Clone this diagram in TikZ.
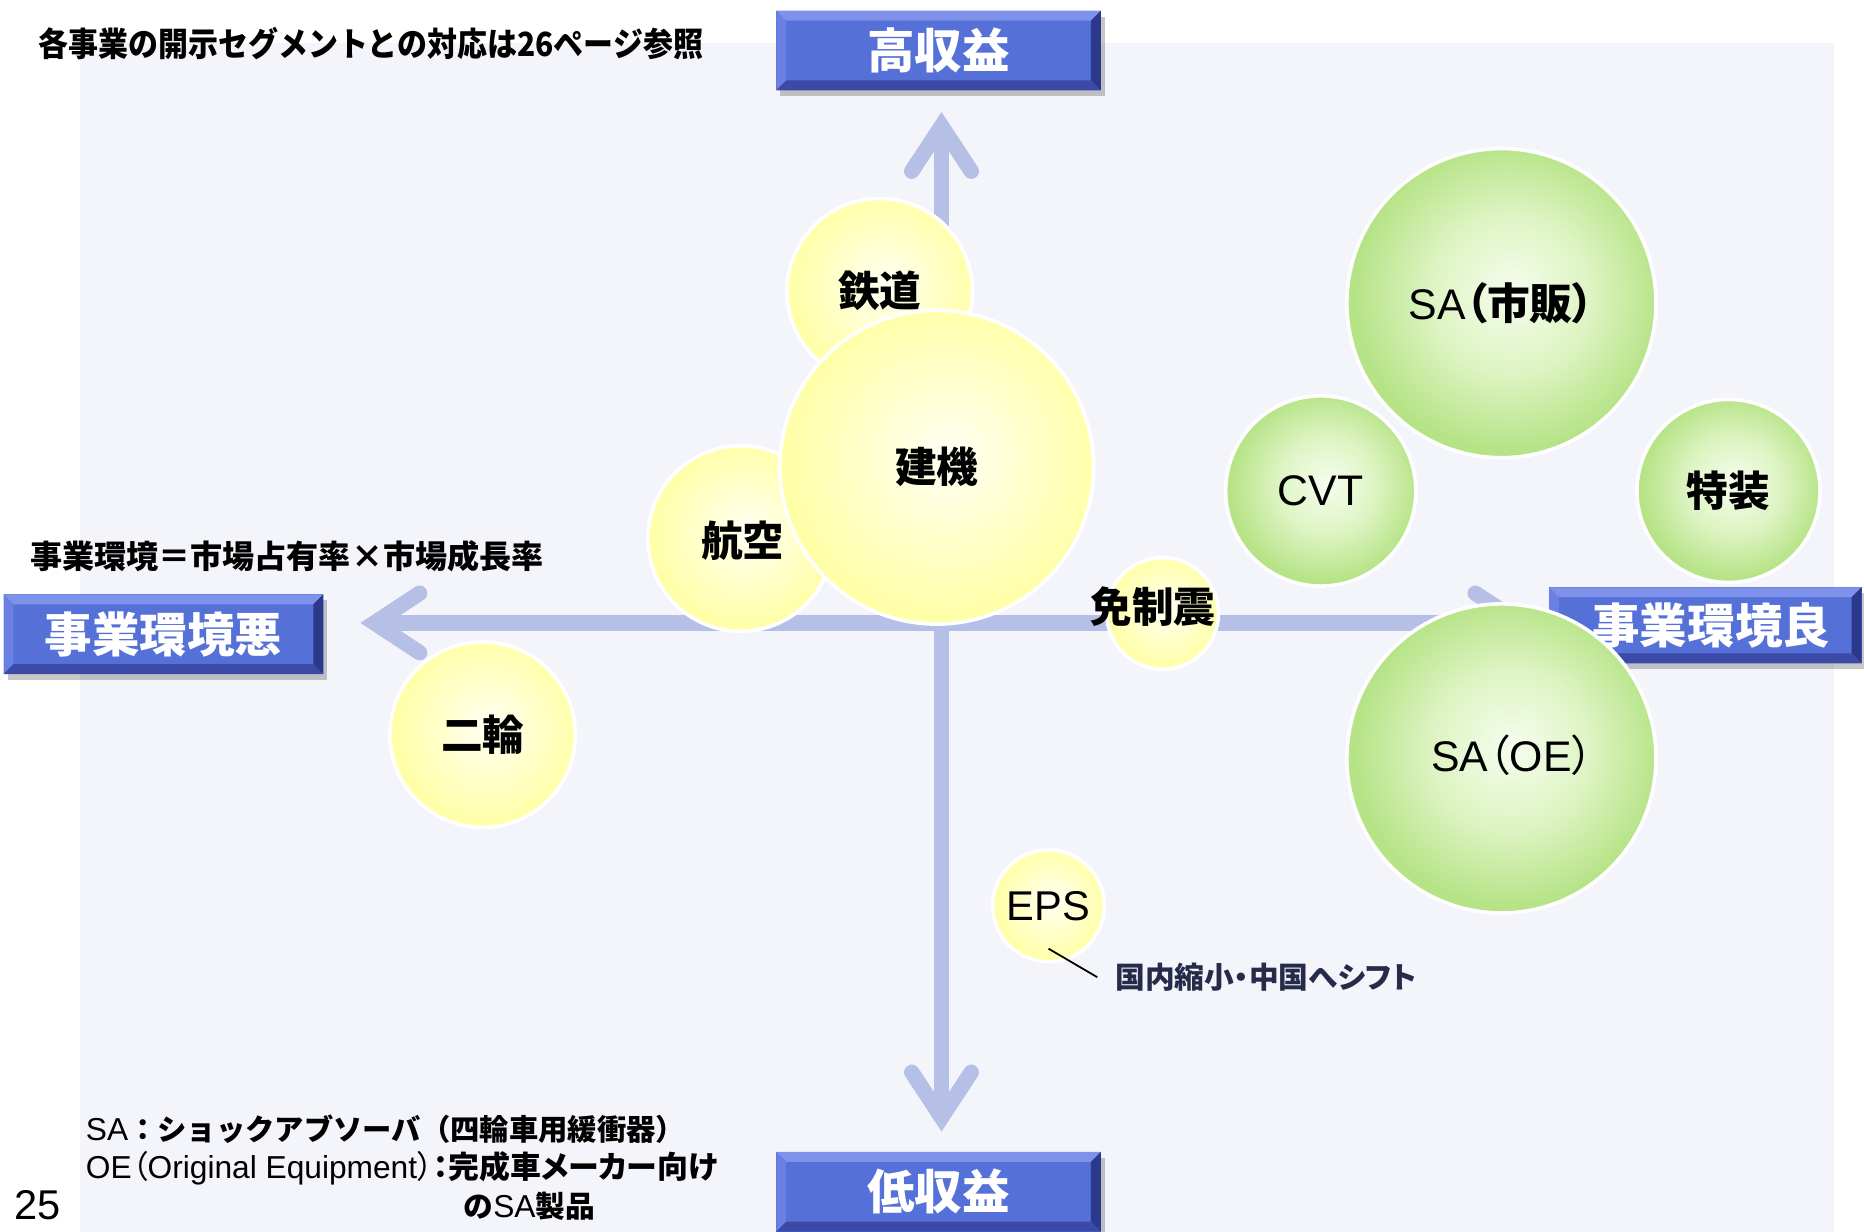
\documentclass[tikz,border=0pt]{standalone}
\usepackage{fontspec}
\setmainfont{Liberation Sans}
\newfontfamily\jp{Noto Sans CJK JP}
\newfontfamily\jpp{Noto Sans CJK JP}[RawFeature=+palt]
\newfontfamily\jpc{Noto Sans CJK JP}[FakeStretch=0.9]
\usetikzlibrary{calc,shadows}
\definecolor{panel}{HTML}{F4F5FA}
\definecolor{axiscol}{HTML}{B6C0E6}
\definecolor{boxface}{HTML}{5570D6}
\definecolor{bvtop}{HTML}{7E92EC}
\definecolor{bvleft}{HTML}{6A80E2}
\definecolor{bvright}{HTML}{2C388C}
\definecolor{bvbot}{HTML}{3A4AA6}
\definecolor{navy}{HTML}{262B4A}
\definecolor{yA}{HTML}{FFFFF6}
\definecolor{yB}{HTML}{FFFFCE}
\definecolor{yC}{HTML}{FFFFA8}
\definecolor{gA}{HTML}{F6FDEE}
\definecolor{gB}{HTML}{DDF4C2}
\definecolor{gC}{HTML}{B5E386}
\pgfdeclareradialshading{yshade}{\pgfpoint{2bp}{2bp}}{color(0bp)=(yA); color(12bp)=(yB); color(25bp)=(yC); color(50bp)=(yC)}
\pgfdeclareradialshading{gshade}{\pgfpoint{2bp}{2bp}}{color(0bp)=(gA); color(13bp)=(gB); color(25bp)=(gC); color(50bp)=(gC)}
\newcommand\fsz[1]{\fontsize{#1}{#1}\selectfont}
\tikzset{
  axisline/.style={draw=axiscol, line width=7.8pt},
  chev/.style={draw=axiscol, line width=7.8pt, line cap=round, line join=miter},
  bevelbox/.style={rectangle, inner sep=0pt, fill=boxface, text=white,
    font=\jp\bfseries\fsz{24pt},
    drop shadow={shadow xshift=2pt, shadow yshift=-3pt, fill=black, opacity=0.22},
    path picture={
      \fill[bvtop] (path picture bounding box.north west) -- (path picture bounding box.north east)
        -- ([shift={(-5pt,-5pt)}]path picture bounding box.north east) -- ([shift={(5pt,-5pt)}]path picture bounding box.north west) -- cycle;
      \fill[bvleft] (path picture bounding box.north west) -- ([shift={(5pt,-5pt)}]path picture bounding box.north west)
        -- ([shift={(5pt,5pt)}]path picture bounding box.south west) -- (path picture bounding box.south west) -- cycle;
      \fill[bvright] (path picture bounding box.north east) -- ([shift={(-5pt,-5pt)}]path picture bounding box.north east)
        -- ([shift={(-5pt,5pt)}]path picture bounding box.south east) -- (path picture bounding box.south east) -- cycle;
      \fill[bvbot] (path picture bounding box.south west) -- (path picture bounding box.south east)
        -- ([shift={(-5pt,5pt)}]path picture bounding box.south east) -- ([shift={(5pt,5pt)}]path picture bounding box.south west) -- cycle;
    }},
  yball/.style={circle, inner sep=0pt, draw=white, line width=1.8pt, shading=yshade, minimum size=#1, font=\jp\bfseries\fsz{21pt}},
  gball/.style={circle, inner sep=0pt, draw=white, line width=1.8pt, shading=gshade, minimum size=#1, font=\jp\bfseries\fsz{21pt}},
  lbl/.style={inner sep=0pt, font=\jp\bfseries\fsz{21pt}},
  latin/.style={inner sep=0pt, font=\fsz{21.6pt}},
  note/.style={inner sep=0pt, anchor=west},
}
\begin{document}
\begin{tikzpicture}[x=0.6pt, y=-0.6pt]
\useasboundingbox (0,0) rectangle (1568,1036);
\fill[panel] (67,36) rectangle (1543,1036);

% axes
\coordinate (tT) at (792,106);
\coordinate (tB) at (792,940);
\coordinate (tL) at (315,524);
\coordinate (tR) at (1279,524);
\draw[axisline] (tT) -- (tB);
\draw[axisline] (tL) -- (tR);
\draw[chev] ($(tT)+(-25,38)$) -- (tT) -- ($(tT)+(25,38)$);
\draw[chev] ($(tB)+(-25,-38)$) -- (tB) -- ($(tB)+(25,-38)$);
\draw[chev] ($(tL)+(38,-25)$) -- (tL) -- ($(tL)+(38,25)$);
\draw[chev] ($(tR)+(-38,-25)$) -- (tR) -- ($(tR)+(-38,25)$);

% boxes
\node[bevelbox, minimum width=163.8pt, minimum height=40.2pt] (hi) at (789.5,42.5) {高収益};
\node[bevelbox, minimum width=163.8pt, minimum height=40.2pt] (lo) at (789.5,1002.5) {低収益};
\node[bevelbox, minimum width=161.4pt, minimum height=40.2pt] (bad) at (137.5,533.5) {事業環境悪};
\node[bevelbox, minimum width=157.8pt, minimum height=38.4pt] (good) at (1434.5,526) {\hspace*{6pt}事業環境良};

% texts
\node[note, font=\jpc\bfseries\fsz{16.8pt}] (segnote) at (32,37) {各事業の開示セグメントとの対応は26ページ参照};
\node[note, font=\jp\bfseries\fsz{16.2pt}] (formula) at (25,468) {事業環境＝市場占有率×市場成長率};

% yellow circles
\node[yball=93.6pt] (tetsu) at (740,245) {鉄道};
\node[yball=93.6pt] (koku) at (623,453) {};
\node[lbl] (kokuT) at (625,455) {航空};
\node[yball=158.4pt] (kenki) at (788,393) {建機};
\node[yball=93.6pt] (nirin) at (406,618) {二輪};
\node[yball=56.4pt] (menshin) at (978,516) {};
\node[lbl] (menshinT) at (970,510) {免制震};
\node[yball=56.4pt, font=\fsz{21pt}] (eps) at (882,762) {EPS};

% green circles
\node[gball=156pt, font=\fsz{21.6pt}] (sashi) at (1263,255) {SA{\jpp\bfseries （市販）}};
\node[gball=96pt, font=\fsz{21.6pt}] (cvt) at (1111,413) {CVT};
\node[gball=92.4pt] (tokuso) at (1454,413) {特装};
\node[gball=156pt] (saoe) at (1263,638) {};
\node[latin] (saoeT) at (1272,635) {SA{\jpp （}OE{\jpp ）}};

% EPS annotation
\node[note, font=\jpp\bfseries\fsz{15pt}, text=navy] (shift) at (938,822) {国内縮小・中国へシフト};
\draw[black, line width=0.9pt] ($(eps.center)+(0,36)$) -- ($(shift.west)+(-15,0)$);

% bottom notes
\node[note] (n1) at (72,950) {\fsz{16pt}SA{\jp\bfseries\fsz{14.8pt}：ショックアブソーバ（四輪車用緩衝器）}};
\node[note] (n2) at (72,983) {\fsz{16pt}OE{\jpp （}Original Equipment{\jpp ）}{\jpp\bfseries\fsz{15.6pt}：完成車メーカー向け}};
\node[note] (n3) at (390,1015) {{\jpp\bfseries\fsz{15pt}の}\fsz{16pt}SA{\jp\bfseries\fsz{15pt}製品}};
\node[note, font=\fsz{21pt}] (pg) at (12,1014) {25};
\end{tikzpicture}
\end{document}
